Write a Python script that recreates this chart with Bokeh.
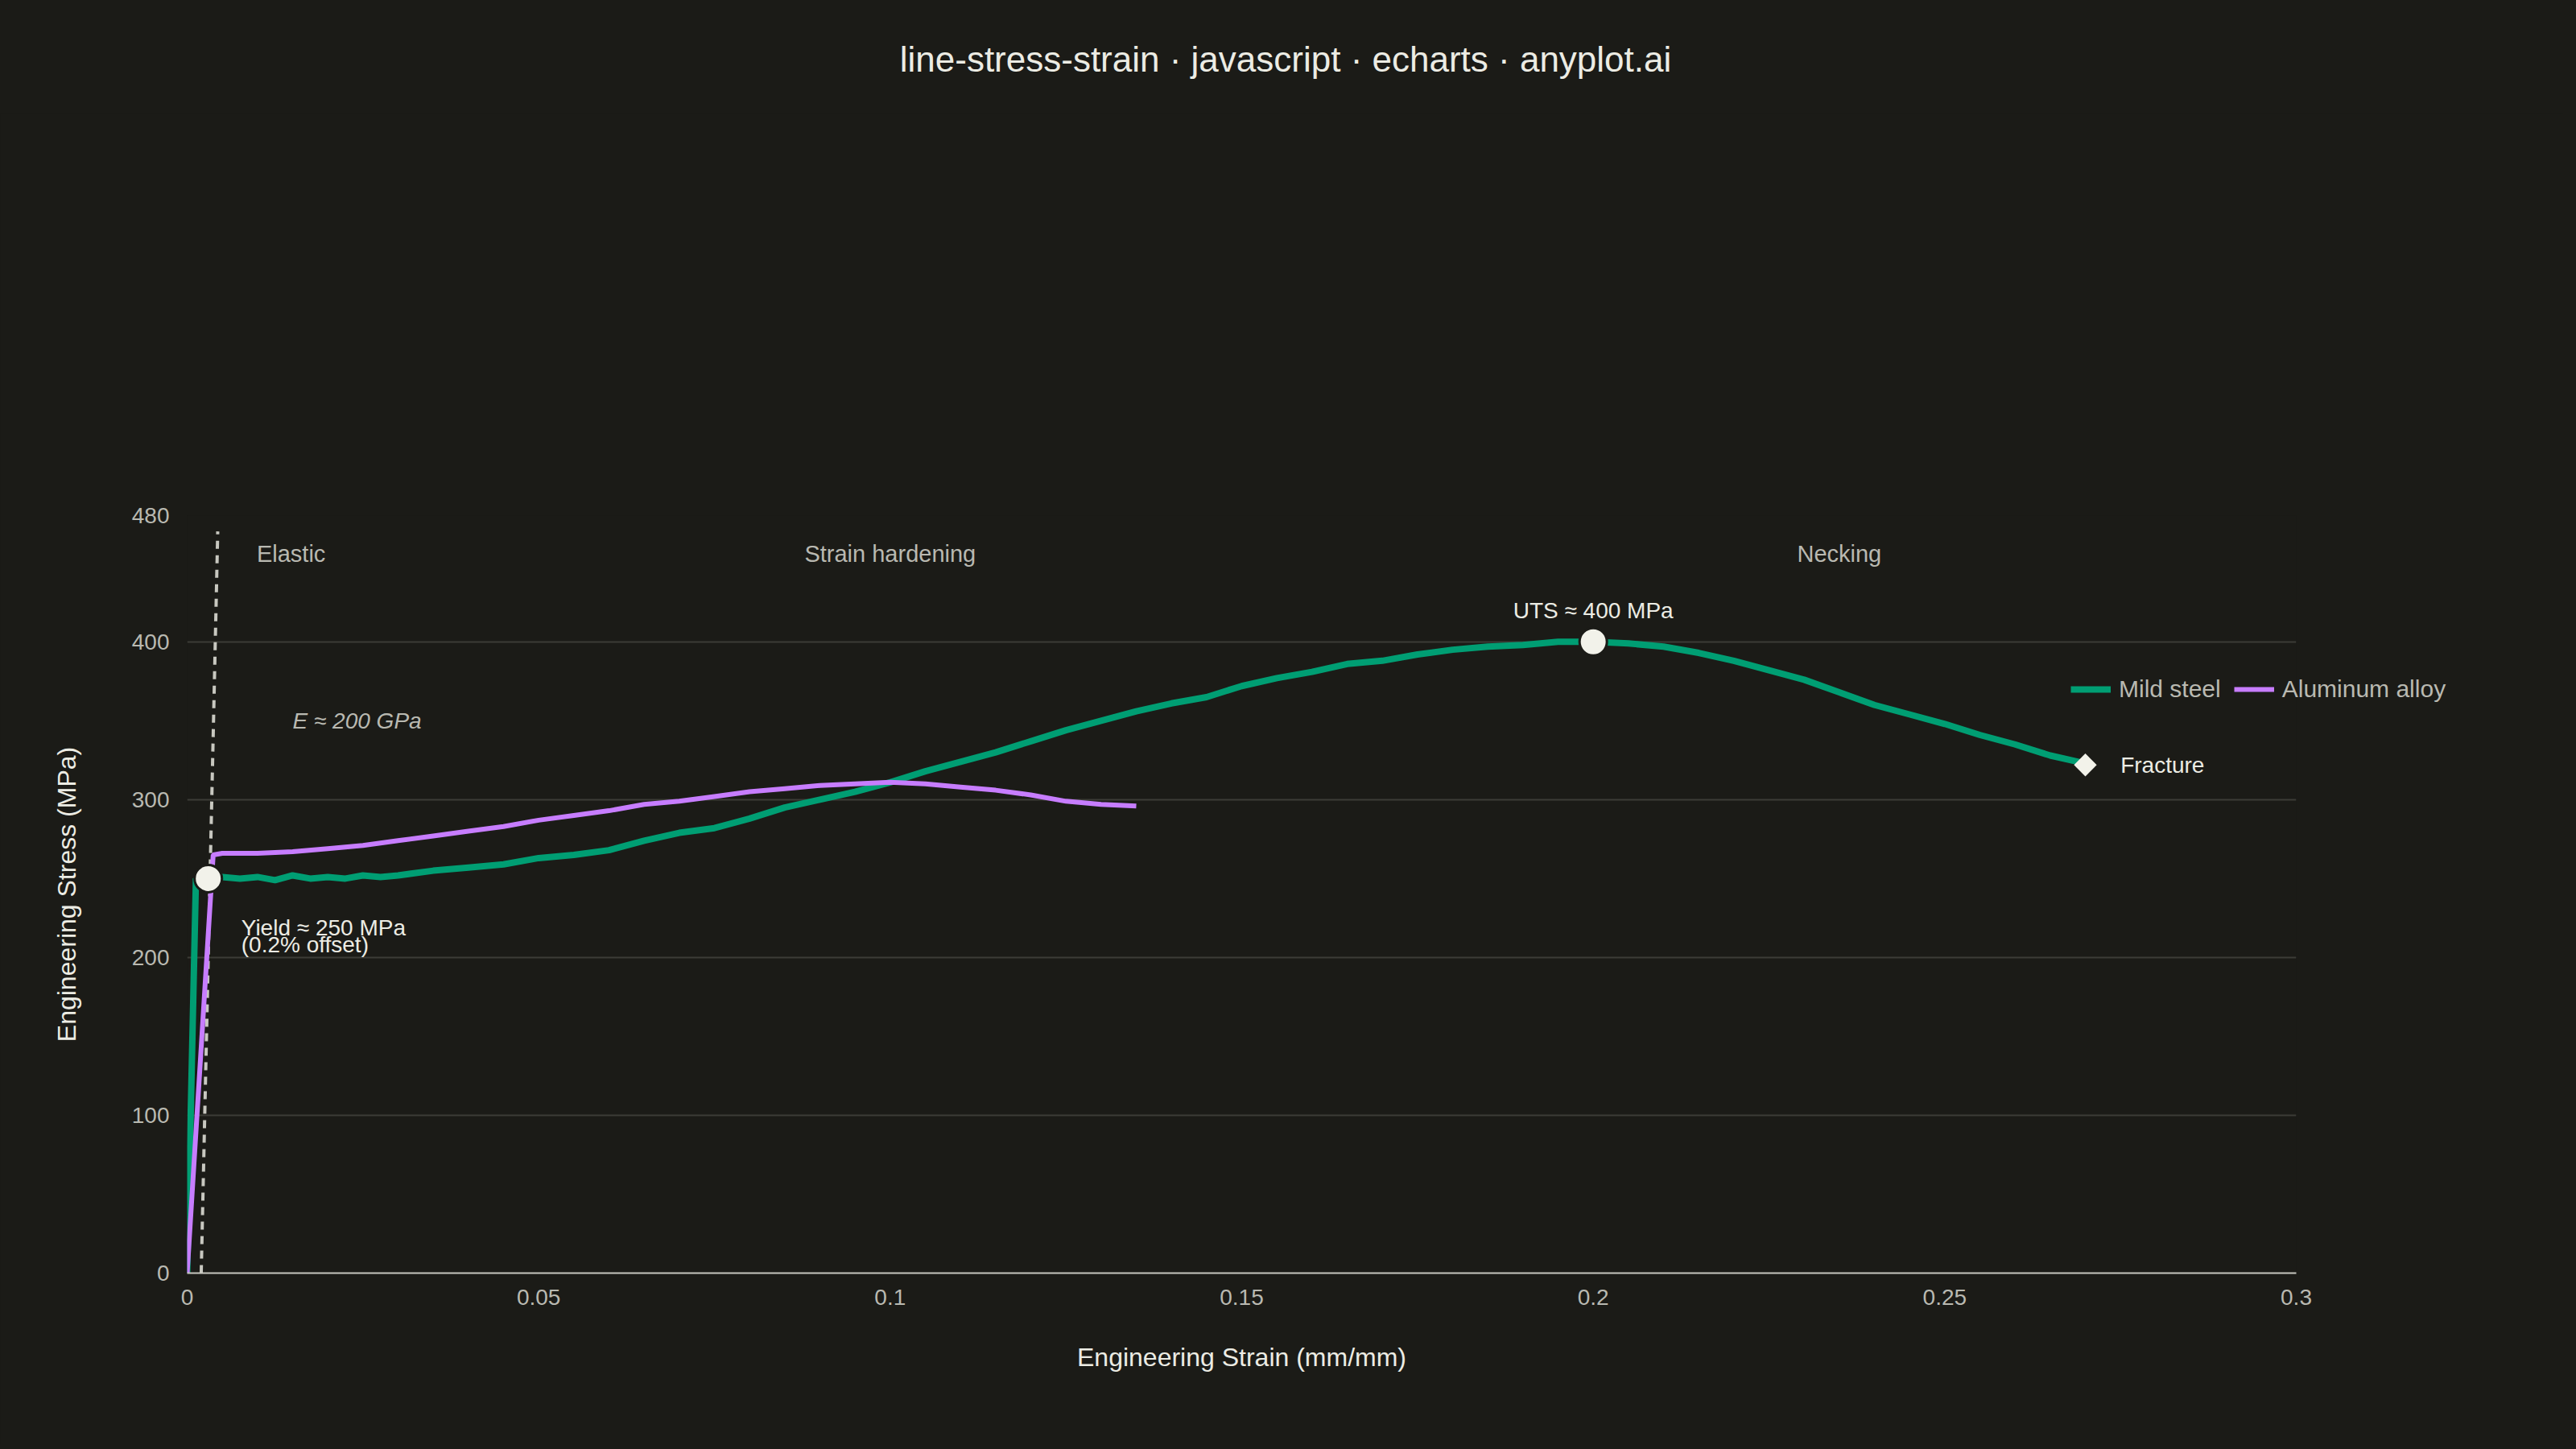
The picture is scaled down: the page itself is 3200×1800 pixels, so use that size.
import math
from bokeh.plotting import figure
from bokeh.models import Label, Legend, LegendItem, FixedTicker, Range1d, Div
from bokeh.layouts import column
from bokeh.embed import file_html
from bokeh.resources import INLINE

steel_strain = [0, 0.00125, 0.0025, 0.005, 0.0075, 0.01, 0.0125, 0.015, 0.0175, 0.02, 0.0225, 0.025, 0.0275, 0.03,
                0.035, 0.04, 0.045, 0.05, 0.055, 0.06, 0.065, 0.07, 0.075, 0.08, 0.085, 0.09, 0.095, 0.1,
                0.105, 0.11, 0.115, 0.12, 0.125, 0.13, 0.135, 0.14, 0.145, 0.15, 0.155, 0.16, 0.165, 0.17,
                0.175, 0.18, 0.185, 0.19, 0.195, 0.2, 0.205, 0.21, 0.215, 0.22, 0.225, 0.23, 0.235, 0.24,
                0.245, 0.25, 0.255, 0.26, 0.265, 0.27]
steel_stress = [0, 250, 249, 251, 250, 251, 249, 252, 250, 251, 250, 252, 251, 252,
                255, 257, 259, 263, 265, 268, 274, 279, 282, 288, 295, 300, 305, 311,
                318, 324, 330, 337, 344, 350, 356, 361, 365, 372, 377, 381, 386, 388,
                392, 395, 397, 398, 400, 400, 399, 397, 393, 388, 382, 376, 368, 360,
                354, 348, 341, 335, 328, 323]
alu_strain = [0, 0.0037, 0.005, 0.01, 0.015, 0.02, 0.025, 0.03, 0.035, 0.04, 0.045, 0.05, 0.055, 0.06,
              0.065, 0.07, 0.075, 0.08, 0.085, 0.09, 0.095, 0.1, 0.105, 0.11, 0.115, 0.12, 0.125, 0.13, 0.135]
alu_stress = [0, 265, 266, 266, 267, 269, 271, 274, 277, 280, 283, 287, 290, 293,
              297, 299, 302, 305, 307, 309, 310, 311, 310, 308, 306, 303, 299, 297, 296]
y_ticks = [0, 100, 200, 300, 400, 480]
x_ticks = [0, 0.05, 0.1, 0.15, 0.2, 0.25, 0.3]
x_tick_labels = ["0", "0.05", "0.1", "0.15", "0.2", "0.25", "0.3"]
offset_x = [0.002, 0.00435]
offset_y = [0, 470]

BG = "#1b1b17"
TXT = "#b9b9b1"
STEEL = "#009e73"
ALU = "#c77dff"
FONT = "Liberation Sans"

title = Div(text="line-stress-strain · javascript · echarts · anyplot.ai", width=3184, height=130,
            styles={"font-family": FONT, "font-size": "44px", "color": "#ececE4", "text-align": "center",
                    "line-height": "138px", "background-color": BG, "width": "3184px"})

p = figure(width=3184, height=1654, output_backend="svg", toolbar_location=None,
           x_range=Range1d(0, 0.3), y_range=Range1d(0, 480),
           background_fill_color=BG, border_fill_color=BG, outline_line_color=None,
           min_border_left=232, min_border_right=332, min_border_top=162, min_border_bottom=213)
p.outline_line_alpha = 0

p.line(offset_x, offset_y, line_color="#c8c8c0", line_width=4, line_dash="10 8")
r_steel = p.line(steel_strain, steel_stress, line_color=STEEL, line_width=8)
r_alu = p.line(alu_strain, alu_stress, line_color=ALU, line_width=6)
s1 = p.scatter([], [], size=14, color=ALU)
s2 = p.scatter([], [], size=14, color="#4a6aad")

p.scatter([0.003], [250], size=34, fill_color="#f2f2ea", line_color=BG, line_width=3)
p.scatter([0.2], [400], size=34, fill_color="#f2f2ea", line_color=BG, line_width=3)
p.scatter([0.27], [322], marker="square", angle=math.pi / 4, size=20, fill_color="#f2f2ea", line_color=None)

def lab(x, y, t, size=28, color=TXT, align="left", style="normal"):
    p.add_layout(Label(x=x, y=y, text=t, text_font=FONT, text_font_size=f"{size}px",
                       text_color=color, text_align=align, text_baseline="middle", text_font_style=style))

lab(0.0099, 456, "Elastic", size=29)
lab(0.1, 456, "Strain hardening", align="center", size=29)
lab(0.235, 456, "Necking", align="center", size=29)
lab(0.015, 350, "E ≈ 200 GPa", style="italic")
lab(0.0077, 219, "Yield ≈ 250 MPa", color="#ececE4")
lab(0.0077, 208, "(0.2% offset)", color="#ececE4")
lab(0.2, 420, "UTS ≈ 400 MPa", color="#ececE4", align="center")
lab(0.275, 322, "Fracture", color="#ececE4")

legend = Legend(items=[LegendItem(label="Mild steel", renderers=[r_steel, s1]),
                       LegendItem(label="Aluminum alloy", renderers=[r_alu, s2])],
                orientation="horizontal", location=(2340, 0), margin=0, background_fill_alpha=0,
                border_line_color=None, label_text_color=TXT, label_text_font=FONT,
                label_text_font_size="30px", glyph_width=50, spacing=16, label_standoff=10)
p.add_layout(legend, "above")

p.xaxis.ticker = FixedTicker(ticks=x_ticks)
p.xaxis.major_label_overrides = {t: l for t, l in zip(x_ticks, x_tick_labels)}
p.yaxis.ticker = FixedTicker(ticks=y_ticks)
for ax in (p.xaxis, p.yaxis):
    ax.major_label_text_color = TXT
    ax.major_label_text_font = FONT
    ax.major_label_text_font_size = "28px"
    ax.major_tick_line_color = None
    ax.minor_tick_line_color = None
    ax.axis_label_text_color = "#ececE4"
    ax.axis_label_text_font = FONT
    ax.axis_label_text_font_size = "32px"
    ax.axis_label_text_font_style = "normal"
p.xaxis.axis_label = "Engineering Strain (mm/mm)"
p.yaxis.axis_label = "Engineering Stress (MPa)"
p.xaxis.axis_line_color = "#c8c8c0"
p.xaxis.axis_line_width = 2
p.yaxis.axis_line_color = None
p.xaxis.major_label_standoff = 14
p.yaxis.major_label_standoff = 16
p.xaxis.axis_label_standoff = 44
p.yaxis.axis_label_standoff = 60
p.xgrid.grid_line_color = None
p.ygrid.grid_line_color = "#3c3c37"
p.ygrid.grid_line_width = 2

layout = column(title, p, spacing=0, styles={"background-color": BG})
html = file_html(layout, INLINE)
html = html.replace("</head>", "<style>html,body{background:#1b1b17;}</style></head>")
open("out.html", "w").write(html)
